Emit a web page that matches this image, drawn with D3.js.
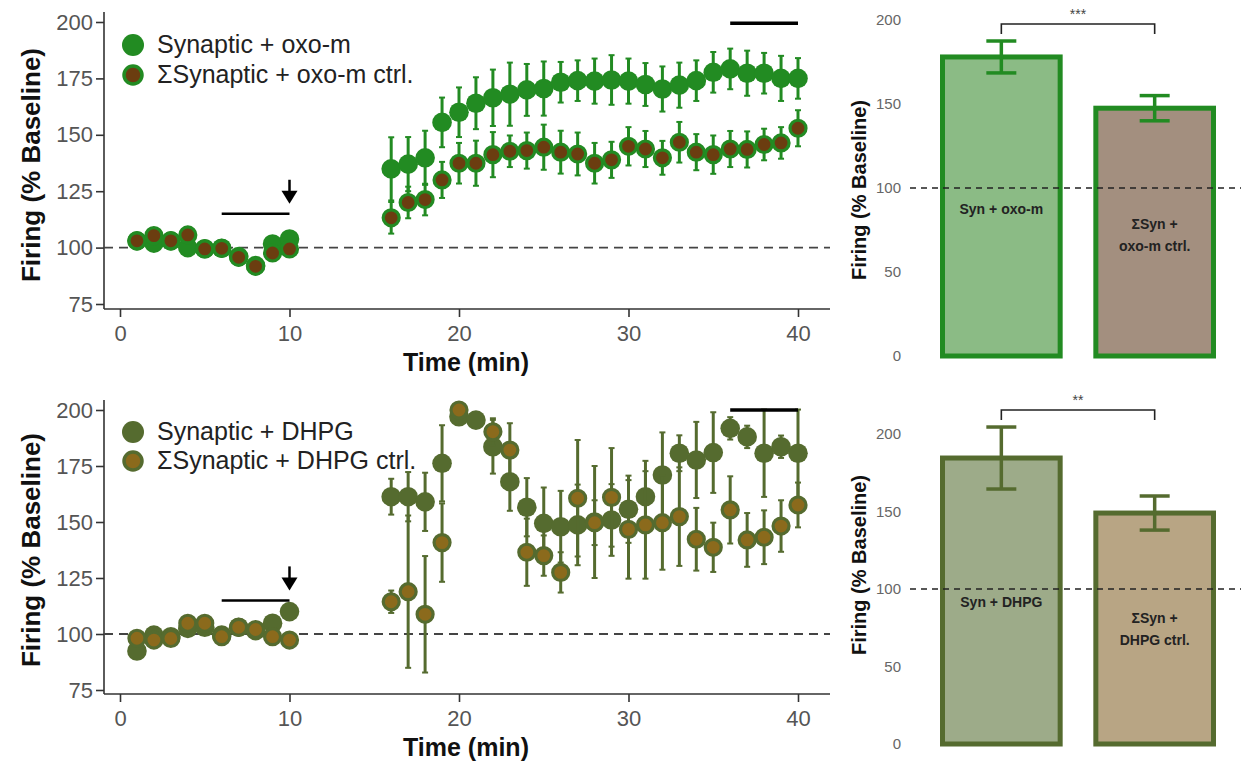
<!DOCTYPE html>
<html><head><meta charset="utf-8">
<script src="https://cdn.jsdelivr.net/npm/d3@7"></script>
<style>
html,body{margin:0;padding:0;background:#fff;}
svg{display:block;font-family:"Liberation Sans",Arial,Helvetica,sans-serif;}
</style></head>
<body><svg id="c" width="1241" height="763"></svg>
<script>
// ---------- DATA ----------
const baseTimes = [1,2,3,4,5,6,7,8,9,10];
const postTimes = [16,17,18,19,20,21,22,23,24,25,26,27,28,29,30,31,32,33,34,35,36,37,38,39,40];
const xTicks = [0,10,20,30,40];
const yTicksLine = [75,100,125,150,175,200];
const yTicksBar = [0,50,100,150,200];

// Panel A: oxo-m
const synOxoBase = [103,102,103,100,99.5,99.7,96,92,101.6,103.8];
const synOxoBaseSem = [2,2,2,2,2,2,2,2,2,2];
const synOxoPost = [134.9,137,139.8,155.5,160,164,166.4,168,169.9,170.5,173.3,174,173.8,174.3,173.8,172.3,170.3,172,174,177.7,179.2,177.3,177.3,175,175];
const synOxoPostSem = [14,12,12,11,11,11.5,12.5,14,11.5,12,9,9,10,11,10,9.5,10,10,9,9,9,10,9,10,9];
const ctrlOxoBase = [103,105.3,103,105.6,99.4,99.7,95.7,91.7,97.6,99.4];
const ctrlOxoBaseSem = [2,2,2,2,2,2,2,2,2,2];
const ctrlOxoPost = [113.2,120,121.3,130,137.4,137.4,141.2,142.7,143,144.5,142.3,141.5,137.4,138.9,144.9,143.7,139.8,146.7,142.3,141.2,143.7,143.5,145.7,146.4,152.9];
const ctrlOxoPostSem = [7,7,7,8,9,10,10,7,8,10,9.5,9.5,9,8,8.5,8,7.5,9,8,8.5,8,8,7,7,8];

// Panel B: DHPG
const synDhpgBase = [92.4,99.5,98.8,102.5,103,99.5,103,101.5,104.8,110];
const synDhpgBaseSem = [2,2,2,2,2,2,2,2,2,2];
const synDhpgPost = [161.3,161.3,159,176.2,197,195.5,183.6,168,156.6,149.4,147.9,148.7,150,150.9,155.7,161.3,171,180.7,177.7,181,191.8,188,180.7,183.6,180.7];
const synDhpgPostSem = [8,11,13,17,3,3,12,13,13,16,16,18,25,16,15,16,19,8,17,18,5,5,19.5,5,19.5];
const ctrlDhpgBase = [98.1,97.3,98,104.8,104.8,98.8,103,102,98.8,97.3];
const ctrlDhpgBaseSem = [2,2,2,2,2,2,2,2,2,2];
const ctrlDhpgPost = [114.4,118.9,108.8,140.8,200,null,190.3,182.1,136.5,135,127.5,160.6,149.7,161,146.7,148.7,149.7,152.4,142.3,138.7,155.4,142,143.2,148.2,157.6];
const ctrlDhpgPostSem = [5,34,26,17.5,3,null,6,12,15,9,9,26,10,22,22,24,21,22,14,11,15,12,12,11.5,10];

// Bars
const barCatsOxo = ["Syn + oxo-m", "ΣSyn +|oxo-m ctrl."];
const barMeansOxo = [178, 147.5];
const barSemsOxo = [9.5, 7.5];
const barCatsDhpg = ["Syn + DHPG", "ΣSyn +|DHPG ctrl."];
const barMeansDhpg = [184.5, 149];
const barSemsDhpg = [20, 11];
const sigOxo = "***";
const sigDhpg = "**";

// annotation values
const preWindow = [6,10];
const postWindow = [36,40];
const preLevel = 115;
const postLevelOxo = 199.5;
const postLevelDhpg = 200;

// ---------- DRAW ----------
const svg = d3.select("#c");
svg.append("rect").attr("width",1241).attr("height",763).attr("fill","#fff");

const zip = (t,v,s)=>t.map((d,i)=>({t:d,v:v[i],s:s[i]})).filter(d=>d.v!=null);

function linePanel(cfg){
  const g = svg.append("g");
  const x = d3.scaleLinear().domain([0,40]).range([120,798]);
  const y = d3.scaleLinear().domain([75,200]).range(cfg.yr);
  const axY = cfg.axisY;
  g.append("line").attr("x1",104).attr("x2",104).attr("y1",y(200)-10).attr("y2",axY).attr("stroke","#333").attr("stroke-width",1.6);
  g.append("line").attr("x1",104).attr("x2",830).attr("y1",axY).attr("y2",axY).attr("stroke","#333").attr("stroke-width",1.6);
  const yAxis = d3.axisLeft(y).tickValues(yTicksLine).tickSize(8).tickPadding(3);
  const ya = g.append("g").attr("transform","translate(104,0)").call(yAxis);
  ya.select(".domain").remove();
  ya.selectAll("line").attr("stroke","#333").attr("stroke-width",1.6);
  ya.selectAll("text").attr("fill","#555").style("font-size","22px").style("font-family","Liberation Sans, Arial, sans-serif");
  const xAxis = d3.axisBottom(x).tickValues(xTicks).tickSize(8).tickPadding(8);
  const xa = g.append("g").attr("transform",`translate(0,${axY})`).call(xAxis);
  xa.select(".domain").remove();
  xa.selectAll("line").attr("stroke","#333").attr("stroke-width",1.6);
  xa.selectAll("text").attr("fill","#555").style("font-size","22px").style("font-family","Liberation Sans, Arial, sans-serif");
  g.append("text").attr("x",466).attr("y",axY+62).attr("text-anchor","middle")
    .style("font-size","25px").style("font-weight","bold").attr("fill","#111").text("Time (min)");
  g.append("text").attr("transform",`translate(40,${cfg.ytitle}) rotate(-90)`).attr("text-anchor","middle")
    .style("font-size","26px").style("font-weight","bold").attr("fill","#111").text("Firing (% Baseline)");
  g.append("line").attr("x1",104).attr("x2",830).attr("y1",y(100)).attr("y2",y(100))
    .attr("stroke","#444").attr("stroke-width",1.8).attr("stroke-dasharray","9,6");

  const syn = zip(baseTimes,cfg.synBase,cfg.synBaseSem).concat(zip(postTimes,cfg.synPost,cfg.synPostSem));
  const ctrl = zip(baseTimes,cfg.ctrlBase,cfg.ctrlBaseSem).concat(zip(postTimes,cfg.ctrlPost,cfg.ctrlPostSem));

  function errs(data,col){
    const e = g.append("g");
    e.selectAll("line.w").data(data).join("line").attr("x1",d=>x(d.t)).attr("x2",d=>x(d.t))
      .attr("y1",d=>y(d.v+d.s)).attr("y2",d=>y(d.v-d.s)).attr("stroke",col).attr("stroke-width",3);
    e.selectAll("line.c1").data(data).join("line").attr("x1",d=>x(d.t)-3).attr("x2",d=>x(d.t)+3)
      .attr("y1",d=>y(d.v+d.s)).attr("y2",d=>y(d.v+d.s)).attr("stroke",col).attr("stroke-width",2);
    e.selectAll("line.c2").data(data).join("line").attr("x1",d=>x(d.t)-3).attr("x2",d=>x(d.t)+3)
      .attr("y1",d=>y(d.v-d.s)).attr("y2",d=>y(d.v-d.s)).attr("stroke",col).attr("stroke-width",2);
  }
  errs(syn,cfg.col);
  g.append("g").selectAll("circle").data(syn).join("circle").attr("cx",d=>x(d.t)).attr("cy",d=>y(d.v))
    .attr("r",9.8).attr("fill",cfg.col);
  errs(ctrl,cfg.col);
  g.append("g").selectAll("circle").data(ctrl).join("circle").attr("cx",d=>x(d.t)).attr("cy",d=>y(d.v))
    .attr("r",8).attr("fill",cfg.inner).attr("stroke",cfg.col).attr("stroke-width",3.2);

  g.append("line").attr("x1",x(preWindow[0])).attr("x2",x(preWindow[1])).attr("y1",y(preLevel)).attr("y2",y(preLevel))
    .attr("stroke","#000").attr("stroke-width",2.5);
  g.append("line").attr("x1",x(postWindow[0])).attr("x2",x(postWindow[1])).attr("y1",y(cfg.postLevel)).attr("y2",y(cfg.postLevel))
    .attr("stroke","#000").attr("stroke-width",3.5);
  const ax = x(preWindow[1]), tipY = y(preLevel)-10;
  g.append("line").attr("x1",ax).attr("x2",ax).attr("y1",tipY-24).attr("y2",tipY-8).attr("stroke","#000").attr("stroke-width",2.5);
  g.append("path").attr("d",`M${ax-8},${tipY-13} L${ax+8},${tipY-13} L${ax},${tipY} Z`).attr("fill","#000");

  const lg = g.append("g");
  lg.append("circle").attr("cx",133).attr("cy",cfg.legY).attr("r",11).attr("fill",cfg.col);
  lg.append("circle").attr("cx",133).attr("cy",cfg.legY+cfg.legGap).attr("r",9).attr("fill",cfg.inner).attr("stroke",cfg.col).attr("stroke-width",3.5);
  lg.append("text").attr("x",157).attr("y",cfg.legY+8).style("font-size","25px").attr("fill","#222").text(cfg.leg1);
  lg.append("text").attr("x",157).attr("y",cfg.legY+cfg.legGap+8).style("font-size","25px").attr("fill","#222").text(cfg.leg2);
}

linePanel({yr:[304,22], axisY:309, ytitle:165, col:"#228B22", inner:"#6B3D10",
  synBase:synOxoBase, synBaseSem:synOxoBaseSem, synPost:synOxoPost, synPostSem:synOxoPostSem,
  ctrlBase:ctrlOxoBase, ctrlBaseSem:ctrlOxoBaseSem, ctrlPost:ctrlOxoPost, ctrlPostSem:ctrlOxoPostSem,
  postLevel:postLevelOxo, legY:45, legGap:30, leg1:"Synaptic + oxo-m", leg2:"ΣSynaptic + oxo-m ctrl."});
linePanel({yr:[690,410], axisY:694, ytitle:550, col:"#556B2F", inner:"#8B6A1C",
  synBase:synDhpgBase, synBaseSem:synDhpgBaseSem, synPost:synDhpgPost, synPostSem:synDhpgPostSem,
  ctrlBase:ctrlDhpgBase, ctrlBaseSem:ctrlDhpgBaseSem, ctrlPost:ctrlDhpgPost, ctrlPostSem:ctrlDhpgPostSem,
  postLevel:postLevelDhpg, legY:432, legGap:29, leg1:"Synaptic + DHPG", leg2:"ΣSynaptic + DHPG ctrl."});

function barPanel(cfg){
  const g = svg.append("g");
  const x = d3.scaleBand().domain(cfg.cats).range([940,1216]).paddingInner(0.2);
  const y = d3.scaleLinear().domain([0,200]).range(cfg.yr);
  const ya = g.append("g").attr("transform","translate(904,0)").call(d3.axisLeft(y).tickValues(yTicksBar).tickSize(0).tickPadding(3));
  ya.select(".domain").remove();
  ya.selectAll("text").attr("fill","#666").style("font-size","15px").style("font-family","Liberation Sans, Arial, sans-serif");
  g.append("text").attr("transform",`translate(866,${cfg.ytitle}) rotate(-90)`).attr("text-anchor","middle")
    .style("font-size","20px").style("font-weight","bold").attr("fill","#111").text("Firing (% Baseline)");
  const sw = 5;
  g.selectAll("rect.b").data(cfg.cats).join("rect")
    .attr("x",d=>x(d)+sw/2).attr("width",x.bandwidth()-sw)
    .attr("y",(d,i)=>y(cfg.means[i])).attr("height",(d,i)=>y(0)-y(cfg.means[i]))
    .attr("fill",(d,i)=>cfg.fills[i]).attr("stroke",cfg.col).attr("stroke-width",sw);
  g.append("line").attr("x1",910).attr("x2",1241).attr("y1",y(100)).attr("y2",y(100))
    .attr("stroke","#222").attr("stroke-width",1.4).attr("stroke-dasharray","6,5");
  cfg.cats.forEach((c,i)=>{
    const cx = x(c)+x.bandwidth()/2;
    const t = y(cfg.means[i]+cfg.sems[i]), b = y(cfg.means[i]-cfg.sems[i]);
    g.append("line").attr("x1",cx).attr("x2",cx).attr("y1",t).attr("y2",b).attr("stroke",cfg.col).attr("stroke-width",3.5);
    [t,b].forEach(yy=>g.append("line").attr("x1",cx-15).attr("x2",cx+15).attr("y1",yy).attr("y2",yy).attr("stroke",cfg.col).attr("stroke-width",3.5));
    const lines = c.split("|");
    const offs = cfg.labOff[i];
    lines.forEach((L,j)=>{
      g.append("text").attr("x",cx).attr("y",y(100)+offs+j*22).attr("text-anchor","middle")
        .style("font-size","14px").style("font-weight","bold").attr("fill","#222").text(L);
    });
  });
  const c1 = x(cfg.cats[0])+x.bandwidth()/2, c2 = x(cfg.cats[1])+x.bandwidth()/2;
  g.append("path").attr("d",`M${c1},${cfg.brY+10} L${c1},${cfg.brY} L${c2},${cfg.brY} L${c2},${cfg.brY+10}`)
    .attr("fill","none").attr("stroke","#222").attr("stroke-width",1.6);
  g.append("text").attr("x",(c1+c2)/2).attr("y",cfg.brY-5).attr("text-anchor","middle")
    .style("font-size","14px").attr("fill","#444").text(cfg.sig);
}

barPanel({cats:barCatsOxo, means:barMeansOxo, sems:barSemsOxo, yr:[356,20], ytitle:190, col:"#228B22",
  fills:["#8BBB85","#A38F7F"], brY:24, sig:sigOxo, labOff:[26,41]});
barPanel({cats:barCatsDhpg, means:barMeansDhpg, sems:barSemsDhpg, yr:[744,434], ytitle:565, col:"#556B2F",
  fills:["#9DAB89","#B8A584"], brY:410, sig:sigDhpg, labOff:[18,34]});
</script></body></html>
